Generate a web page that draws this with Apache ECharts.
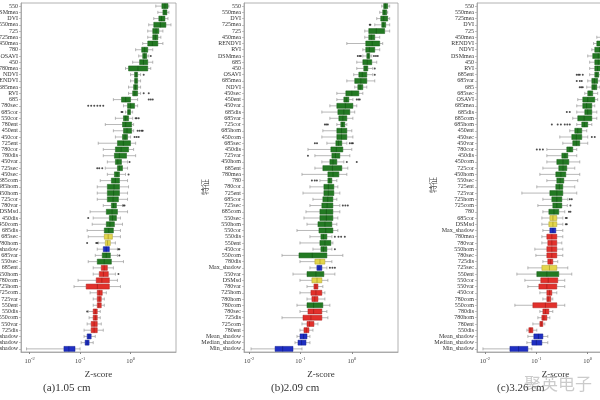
<!DOCTYPE html>
<html>
<head>
<meta charset="utf-8">
<script src="https://cdn.jsdelivr.net/npm/echarts@6/dist/echarts.min.js"></script>
<style>
  html, body { margin: 0; padding: 0; background: #fff; }
  #chart { width: 600px; height: 400px; }
</style>
</head>
<body>
<div id="chart"></div>
<script>
// ---------------- DATA ----------------
// Boruta decision: C = confirmed, T = tentative, R = rejected, S = shadow
// each row: [decision, min, q1, median, q3, max]  (Z-score)
const namesA = ['550','DSMmea','DVI','550mea','725','725mea','450mea','780','OSAVI','450','780mea','NDVI','RENDVI','685mea','RVI','685','780sec','685cor','550cor','780ent','450ent','450cor','725ent','780cor','780dis','450var','725sec','450sec','685com','685hom','450hom','725cor','780var','DSMsd','450dis','450com','685dis','685sec','780hom','Max_shadow','685var','550sec','685ent','550hom','780com','725hom','725com','725var','550ent','550dis','550com','550var','725dis','Mean_shadow','Median_shadow','Min_shadow'];
const boxesA = [
  ['C',3.16,4.17,4.8,5.50,5.75],['C',3.47,4.37,4.8,5.25,5.75],['C',2.88,3.63,4.1,4.79,5.50],['C',2.29,2.88,3.9,5.01,6.31],
  ['C',2.19,2.75,3.2,3.63,4.37],['C',2.19,2.75,3.1,3.47,3.98],['C',1.74,2.19,2.7,3.47,4.37],['C',1.26,1.66,1.9,2.19,2.75],
  ['C',1.45,1.74,1.9,2.09,2.29],['C',1.10,1.51,1.8,2.19,2.75],['C',0.794,0.912,1.4,2.19,2.51],['C',1.0,1.20,1.29,1.38,1.58],
  ['C',1.0,1.20,1.28,1.38,1.58],['C',0.912,1.15,1.25,1.38,1.58],['C',0.912,1.10,1.22,1.38,1.58],['C',0.457,0.661,0.8,1.0,1.38],
  ['C',0.724,0.871,1.0,1.20,1.38],['C',0.794,0.871,0.93,1.0,1.10],['C',0.501,0.724,0.8,0.912,1.10],['C',0.316,0.692,0.8,1.05,1.15],
  ['C',0.457,0.724,0.85,1.05,1.15],['C',0.501,0.692,0.78,0.871,1.0],['C',0.229,0.550,0.72,1.0,1.26],['C',0.288,0.501,0.65,0.912,1.15],
  ['C',0.288,0.479,0.6,0.832,1.26],['C',0.347,0.501,0.56,0.661,0.871],['C',0.316,0.550,0.6,0.692,0.871],['C',0.347,0.479,0.54,0.603,0.794],
  ['C',0.251,0.417,0.5,0.603,0.871],['C',0.219,0.347,0.47,0.603,0.912],['C',0.219,0.347,0.46,0.603,0.871],['C',0.219,0.347,0.45,0.575,0.871],
  ['C',0.288,0.417,0.46,0.525,0.692],['C',0.158,0.331,0.43,0.550,0.871],['C',0.182,0.380,0.44,0.525,0.631],['C',0.174,0.331,0.39,0.479,0.692],
  ['C',0.138,0.302,0.37,0.457,0.631],['T',0.145,0.302,0.36,0.437,0.631],['T',0.229,0.316,0.35,0.398,0.501],['S',0.219,0.288,0.33,0.380,0.550],
  ['C',0.200,0.275,0.33,0.398,0.550],['C',0.145,0.219,0.3,0.417,0.724],['R',0.182,0.263,0.3,0.347,0.457],['R',0.182,0.240,0.29,0.363,0.501],
  ['R',0.0912,0.209,0.27,0.380,0.550],['R',0.0759,0.132,0.22,0.380,0.631],['R',0.158,0.219,0.24,0.275,0.331],['R',0.182,0.219,0.24,0.263,0.302],
  ['R',0.182,0.219,0.235,0.263,0.302],['R',0.145,0.182,0.2,0.219,0.251],['R',0.151,0.182,0.2,0.219,0.251],['R',0.138,0.166,0.19,0.219,0.263],
  ['R',0.120,0.166,0.19,0.219,0.288],['S',0.120,0.138,0.15,0.166,0.200],['S',0.105,0.126,0.138,0.151,0.182],['S',0.0087,0.0479,0.06,0.0794,0.1]
];
const outliersA = [
  ['OSAVI',2.51],['NDVI',1.82],['RVI',1.82],['RVI',2.29],['685',2.29],['685',2.51],['685',2.75],
  ['780sec',0.145],['780sec',0.166],['780sec',0.191],['780sec',0.22],['780sec',0.25],['780sec',0.288],
  ['685cor',0.661],['685cor',0.69],['550cor',1.26],['550cor',1.32],['550cor',1.45],
  ['450ent',1.38],['450ent',1.51],['450ent',1.66],['450ent',1.74],['450cor',1.20],['450cor',1.32],['450cor',1.45],
  ['450var',0.955],['725sec',0.219],['725sec',0.24],['725sec',0.275],['450sec',0.912],['780var',0.724],['780var',0.759],
  ['450dis',0.145],['780hom',0.138],['780hom',0.209],['780hom',0.22],['Max_shadow',0.575],['Max_shadow',0.60],
  ['685var',0.60],['550hom',0.575],['550dis',0.138]
];

const namesB = ['550','550mea','DVI','725mea','725','450mea','RENDVI','RVI','DSMmea','685','450','OSAVI','685mea','NDVI','450sec','450ent','450var','685dis','685var','725cor','685hom','450com','685sec','450dis','725var','450hom','685ent','780mea','780','780cor','725ent','685cor','725sec','685com','550sec','550hom','550cor','550dis','550ent','450cor','550com','780dis','Max_shadow','550var','DSMsd','780var','725hom','780hom','780com','780sec','725dis','725com','780ent','Mean_shadow','Median_shadow','Min_shadow'];
const boxesB = [
  ['C',3.83,4.18,4.5,5.00,5.47],['C',3.50,4.00,4.3,4.78,5.00],['C',3.06,3.66,4.2,5.00,5.47],['C',2.80,3.83,4.1,4.57,5.47],
  ['C',1.79,2.14,3.0,4.37,5.47],['C',1.79,2.14,2.4,2.80,3.50],['C',0.800,1.87,2.5,3.50,4.00],['C',1.64,1.87,2.2,2.80,3.50],
  ['C',1.64,1.96,2.1,2.24,2.45],['C',1.25,1.64,2.0,2.45,3.06],['C',1.25,1.71,1.9,2.05,2.56],['C',1.09,1.37,1.6,1.96,2.56],
  ['C',0.800,1.14,1.5,1.96,2.80],['C',1.14,1.31,1.45,1.64,1.96],['C',0.511,0.765,1.0,1.37,1.64],['C',0.511,0.699,0.78,0.875,1.05],
  ['C',0.374,0.511,0.75,1.05,1.25],['C',0.261,0.535,0.7,0.915,1.14],['C',0.374,0.559,0.67,0.800,1.05],['C',0.511,0.611,0.66,0.731,0.800],
  ['C',0.273,0.511,0.63,0.800,1.00],['C',0.261,0.511,0.63,0.800,1.05],['C',0.327,0.489,0.55,0.639,0.800],['C',0.140,0.391,0.5,0.669,1.00],
  ['C',0.191,0.409,0.48,0.585,0.915],['C',0.261,0.374,0.43,0.511,0.699],['C',0.191,0.273,0.42,0.639,0.836],['C',0.107,0.342,0.43,0.559,0.800],
  ['C',0.239,0.342,0.37,0.409,0.511],['C',0.153,0.286,0.35,0.447,0.535],['C',0.112,0.286,0.35,0.447,0.585],['C',0.175,0.273,0.34,0.428,0.511],
  ['C',0.153,0.261,0.33,0.428,0.585],['C',0.128,0.239,0.32,0.428,0.585],['C',0.117,0.239,0.32,0.428,0.535],['C',0.134,0.219,0.3,0.409,0.511],
  ['C',0.0855,0.229,0.31,0.428,0.535],['C',0.153,0.250,0.28,0.327,0.409],['C',0.0978,0.239,0.3,0.391,0.428],['C',0.175,0.250,0.28,0.327,0.409],
  ['C',0.0437,0.0935,0.17,0.327,0.669],['T',0.0978,0.191,0.24,0.299,0.409],['S',0.153,0.209,0.23,0.261,0.327],['C',0.0715,0.134,0.2,0.286,0.468],
  ['T',0.0978,0.167,0.21,0.261,0.342],['R',0.134,0.183,0.2,0.219,0.273],['R',0.0978,0.160,0.2,0.261,0.299],['R',0.134,0.167,0.19,0.219,0.299],
  ['C',0.0855,0.134,0.18,0.273,0.374],['R',0.0978,0.140,0.18,0.261,0.327],['R',0.0437,0.112,0.16,0.261,0.342],['R',0.107,0.134,0.15,0.183,0.219],
  ['R',0.0978,0.117,0.13,0.146,0.175],['S',0.0855,0.0978,0.115,0.134,0.153],['S',0.0782,0.0894,0.105,0.128,0.153],['S',0.0109,0.0320,0.045,0.0715,0.107]
];
const outliersB = [
  ['725mea',2.24],['725mea',2.3],['DSMmea',1.31],['DSMmea',1.43],['DSMmea',1.5],['DSMmea',2.7],['DSMmea',2.95],['DSMmea',3.2],
  ['450',2.80],['OSAVI',2.80],['450ent',1.25],['450ent',1.35],['450ent',1.43],['725cor',0.299],['725cor',0.32],['725cor',0.342],
  ['685sec',0.191],['685sec',0.21],['685sec',0.915],['685sec',1.0],['685sec',1.05],['725var',0.140],['450hom',0.800],['450hom',1.25],
  ['780',0.167],['780',0.19],['780',0.209],['725sec',0.669],['725sec',0.75],['725sec',0.836],
  ['550dis',0.468],['550dis',0.55],['550dis',0.62],['550dis',0.731],['450cor',0.468],
  ['Max_shadow',0.374],['Max_shadow',0.42],['Max_shadow',0.468]
];

const namesC = ['550','550mea','725mea','DVI','725','450mea','RENDVI','NDVI','DSMmea','450','RVI','685ent','685var','685','685sec','OSAVI','685mea','685dis','685com','685hom','450ent','450sec','450var','780cor','450dis','450com','725cor','450hom','550sec','725ent','725var','725hom','725com','780','685cor','DSMsd','Max_shadow','780mea','780var','550hom','780sec','725dis','725sec','550ent','550cor','550var','450cor','780com','550com','780dis','780hom','780ent','550dis','Mean_shadow','Median_shadow','Min_shadow'];
const boxesC = [
  ['C',3.8,4.2,4.6,5.0,5.5],['C',3.2,3.8,4.2,4.6,5.2],['C',2.8,3.4,3.8,4.3,5.0],['C',2.6,3.2,3.6,4.1,4.8],
  ['C',2.0,2.6,3.1,3.7,4.5],['C',1.5,2.1,2.5,3.0,3.6],['C',1.3,1.5,2.0,2.6,3.2],['C',1.20,1.37,1.7,2.1,2.6],
  ['C',1.0,1.25,1.6,2.0,2.6],['C',1.09,1.37,1.6,1.9,2.4],['C',1.09,1.37,1.55,1.8,2.3],['C',1.09,1.37,1.5,1.64,1.8],
  ['C',1.0,1.20,1.35,1.56,1.75],['C',0.956,1.20,1.33,1.50,1.71],['C',0.875,1.0,1.1,1.25,1.56],['C',0.639,0.800,1.0,1.37,1.56],
  ['C',0.611,0.800,0.95,1.20,1.37],['C',0.611,0.875,1.0,1.20,1.50],['C',0.511,0.639,0.85,1.20,1.50],['C',0.611,0.765,0.86,1.0,1.20],
  ['C',0.447,0.559,0.64,0.765,0.956],['C',0.286,0.489,0.6,0.765,1.0],['C',0.327,0.511,0.6,0.699,1.0],['C',0.160,0.391,0.45,0.511,0.611],
  ['C',0.160,0.313,0.36,0.409,0.611],['C',0.160,0.250,0.33,0.428,0.699],['C',0.134,0.273,0.33,0.391,0.559],['C',0.117,0.239,0.3,0.374,0.699],
  ['C',0.160,0.250,0.29,0.342,0.639],['C',0.102,0.239,0.28,0.327,0.559],['C',0.0523,0.183,0.25,0.327,0.611],['C',0.134,0.200,0.25,0.313,0.409],
  ['C',0.107,0.209,0.25,0.313,0.40],['C',0.134,0.175,0.22,0.273,0.357],['T',0.128,0.183,0.21,0.250,0.327],['T',0.128,0.175,0.21,0.250,0.327],
  ['S',0.134,0.183,0.21,0.239,0.327],['R',0.128,0.160,0.2,0.250,0.327],['R',0.128,0.167,0.2,0.250,0.313],['R',0.0935,0.160,0.2,0.250,0.327],
  ['R',0.0978,0.160,0.2,0.250,0.327],['R',0.134,0.167,0.19,0.209,0.261],['T',0.0684,0.128,0.18,0.250,0.409],['C',0.0418,0.102,0.16,0.273,0.489],
  ['R',0.0598,0.122,0.17,0.261,0.357],['R',0.0684,0.112,0.16,0.250,0.357],['R',0.117,0.160,0.18,0.200,0.250],['R',0.134,0.160,0.17,0.191,0.209],
  ['R',0.0382,0.0855,0.15,0.250,0.357],['R',0.117,0.134,0.15,0.175,0.209],['R',0.107,0.128,0.14,0.160,0.183],['R',0.0855,0.117,0.125,0.134,0.146],
  ['R',0.0654,0.0715,0.078,0.0855,0.102],['S',0.0684,0.0893,0.11,0.134,0.167],['S',0.0654,0.0818,0.1,0.128,0.167],['S',0.00914,0.0306,0.045,0.0684,0.0818]
];
const outliersC = [
  ['685ent',0.611],['685ent',0.66],['685ent',0.70],['685ent',0.80],['685var',0.611],['685var',0.70],['685var',0.765],
  ['685',0.699],['685',0.75],['685',0.80],['685dis',0.391],['685dis',0.447],
  ['685hom',0.200],['685hom',0.26],['685hom',0.30],['685hom',0.357],['685hom',0.40],['685hom',0.447],
  ['450sec',1.20],['450sec',1.37],['780cor',0.102],['780cor',0.117],['780cor',0.134],
  ['725hom',0.447],['725hom',0.489],['725com',0.46],['780',0.43],['780',0.46],
  ['685cor',0.374],['685cor',0.391],['DSMsd',0.374],['DSMsd',0.391]
];

const captions = ['(a)1.05 cm', '(b)2.09 cm', '(c)3.26 cm'];
const yTitle = '特征';
const xTitle = 'Z-score';

// ---------------- STYLE ----------------
const SERIF = '"Liberation Serif", "DejaVu Serif", serif';
const FILL = { C: '#237a23', T: '#e3d64c', R: '#e2302b', S: '#1f2fc4' };
const EDGE = { C: '#175a17', T: '#aa9d2a', R: '#a81f1c', S: '#121f8c' };
const WHISK = '#9a9a9a';

const panels = [
  { names: namesA, boxes: boxesA, out: outliersA, left: 21, width: 155, min: Math.pow(10, -2.17), max: Math.pow(10, 0.9) },
  { names: namesB, boxes: boxesB, out: outliersB, left: 244, width: 154, min: Math.pow(10, -2.1), max: Math.pow(10, 0.9) },
  { names: namesC, boxes: boxesC, out: outliersC, left: 477, width: 157, min: Math.pow(10, -2.155), max: Math.pow(10, 0.9) }
];

function makeRender(boxes) {
  return function (params, api) {
    const c = api.value(0);
    const pMin = api.coord([api.value(1), c]);
    const pQ1 = api.coord([api.value(2), c]);
    const pMed = api.coord([api.value(3), c]);
    const pQ3 = api.coord([api.value(4), c]);
    const pMax = api.coord([api.value(5), c]);
    const band = api.size([0, 1], [1, c])[1];
    const bh = band * 0.8;
    const y = pMed[1];
    const d = boxes[params.dataIndex][0];
    const cap = bh * 0.3;
    const ws = { stroke: WHISK, lineWidth: 0.7 };
    return {
      type: 'group',
      children: [
        { type: 'line', shape: { x1: pMin[0], y1: y, x2: pQ1[0], y2: y }, style: ws },
        { type: 'line', shape: { x1: pQ3[0], y1: y, x2: pMax[0], y2: y }, style: ws },
        { type: 'line', shape: { x1: pMin[0], y1: y - cap, x2: pMin[0], y2: y + cap }, style: ws },
        { type: 'line', shape: { x1: pMax[0], y1: y - cap, x2: pMax[0], y2: y + cap }, style: ws },
        { type: 'rect', shape: { x: pQ1[0], y: y - bh / 2, width: pQ3[0] - pQ1[0], height: bh },
          style: { fill: FILL[d], stroke: EDGE[d], lineWidth: 0.5 } },
        { type: 'line', shape: { x1: pMed[0], y1: y - bh / 2, x2: pMed[0], y2: y + bh / 2 },
          style: { stroke: EDGE[d], lineWidth: 0.8 } }
      ]
    };
  };
}

function isDecade(v) {
  const e = Math.log10(v);
  return Math.abs(e - Math.round(e)) < 1e-6;
}

const grid = [], xAxis = [], yAxis = [], series = [], graphic = [];
panels.forEach(function (p, i) {
  grid.push({ left: p.left, top: 3, width: p.width, height: 349, show: true,
    containLabel: false, outerBoundsMode: 'none',
    borderColor: '#a0a0a0', borderWidth: 0.8, backgroundColor: 'transparent' });
  xAxis.push({
    gridIndex: i, type: 'log', logBase: 10, min: p.min, max: p.max,
    name: xTitle, nameLocation: 'middle', nameGap: 11,
    nameTextStyle: { fontFamily: SERIF, fontSize: 9, color: '#333' },
    axisLine: { show: true, lineStyle: { color: '#a0a0a0', width: 0.8 } },
    axisTick: { show: true, length: 2, lineStyle: { color: '#888' } },
    splitLine: { show: false },
    minorTick: { show: false },
    axisLabel: {
      margin: 4, hideOverlap: false, showMinLabel: false, showMaxLabel: false,
      formatter: function (v) { return isDecade(v) ? '{b|10}{s|' + Math.round(Math.log10(v)) + '}' : ''; },
      rich: {
        b: { fontFamily: SERIF, fontSize: 6.5, color: '#444', verticalAlign: 'bottom', lineHeight: 9 },
        s: { fontFamily: SERIF, fontSize: 4.5, color: '#444', verticalAlign: 'top', lineHeight: 9 }
      }
    }
  });
  yAxis.push({
    gridIndex: i, type: 'category', inverse: true, data: p.names,
    axisLine: { show: true, lineStyle: { color: '#a0a0a0', width: 0.8 } },
    axisTick: { show: true, length: 2, alignWithLabel: true, lineStyle: { color: '#999', width: 0.6 } },
    axisLabel: { interval: 0, fontFamily: SERIF, fontSize: 6, color: '#333', margin: 3, hideOverlap: false }
  });
  series.push({
    type: 'custom', xAxisIndex: i, yAxisIndex: i, clip: true,
    renderItem: makeRender(p.boxes),
    encode: { x: [1, 2, 3, 4, 5], y: 0 },
    data: p.boxes.map(function (b, k) { return [k, b[1], b[2], b[3], b[4], b[5]]; })
  });
  series.push({
    type: 'scatter', xAxisIndex: i, yAxisIndex: i, symbol: 'circle', symbolSize: 2,
    itemStyle: { color: '#222' }, silent: true, z: 5,
    data: p.out.map(function (o) { return [o[1], o[0]]; })
  });
});

const CJK = '"Noto Sans CJK SC", sans-serif';
graphic.push(
  { type: 'text', x: 205, y: 187, rotation: Math.PI / 2, style: { text: yTitle, font: '8px ' + CJK, fill: '#555', align: 'center', verticalAlign: 'middle' } },
  { type: 'text', x: 433, y: 185, rotation: Math.PI / 2, style: { text: yTitle, font: '8px ' + CJK, fill: '#555', align: 'center', verticalAlign: 'middle' } },
  { type: 'text', left: 43, top: 383, style: { text: captions[0], font: '11px ' + SERIF, fill: '#333' } },
  { type: 'text', left: 271, top: 383, style: { text: captions[1], font: '11px ' + SERIF, fill: '#333' } },
  { type: 'text', left: 497, top: 383, style: { text: captions[2], font: '11px ' + SERIF, fill: '#333' } },
  { type: 'text', left: 524, top: 375, z: 100, style: { text: '聚英电子', font: '17px ' + CJK, fill: 'rgba(140,140,140,0.45)' } }
);

const chart = echarts.init(document.getElementById('chart'), null, { renderer: 'canvas' });
chart.setOption({
  animation: false,
  backgroundColor: '#ffffff',
  grid: grid, xAxis: xAxis, yAxis: yAxis, series: series, graphic: graphic
});
</script>
</body>
</html>
